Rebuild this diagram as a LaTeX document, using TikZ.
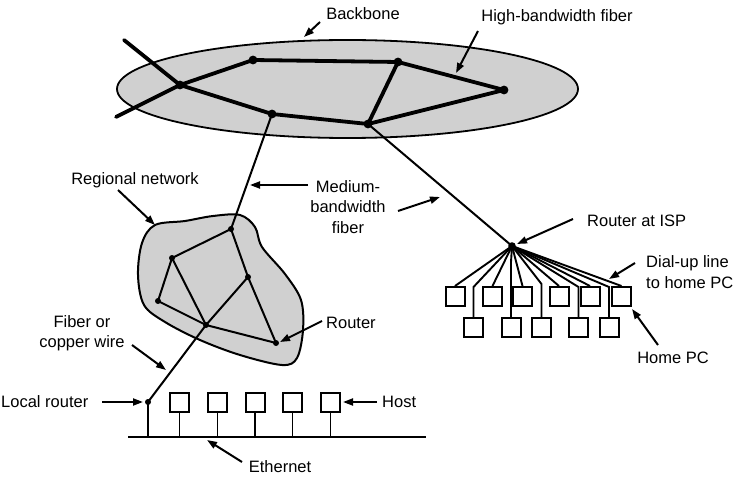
\documentclass[tikz,border=0pt]{standalone}
\usepackage{fontspec}
\setmainfont{Liberation Sans}
\usetikzlibrary{arrows.meta,calc}
\definecolor{blobgray}{RGB}{208,208,208}
\begin{document}
\begin{tikzpicture}[x=1pt,y=-1pt,
  lbl/.style={font=\fontsize{16.5}{20.5}\selectfont, inner sep=0pt, align=center},
  ptr/.style={-{Triangle[length=10pt,width=7pt]}, line width=2pt},
  bbline/.style={line width=3.8pt, line cap=round, line join=round},
  regline/.style={line width=2pt, line cap=round},
  thinline/.style={line width=1.9pt},
  pcbox/.style={draw, line width=2pt, minimum size=19pt, inner sep=0pt},
]
\useasboundingbox (0,0) rectangle (738,478);

% ---------- Backbone ----------
\draw[line width=1.8pt, fill=blobgray] (347.5,89) ellipse [x radius=230.5, y radius=49];
\coordinate (A) at (180,85);
\coordinate (B) at (253,60);
\coordinate (C) at (398,62);
\coordinate (D) at (504,90);
\coordinate (E) at (368,124);
\coordinate (F) at (272,114);
\coordinate (ext1) at (124,40);
\coordinate (ext2) at (116,117);
\draw[bbline] (ext1) -- (A);
\draw[bbline] (ext2) -- (A);
\draw[bbline] (A) -- (B) -- (C) -- (D) -- (E) -- (F) -- cycle;
\draw[bbline] (C) -- (E);
\foreach \p in {A,B,C,D,E,F} \fill (\p) circle (4.4);

% ---------- Regional network ----------
\draw[line width=2pt, fill=blobgray] plot[smooth cycle, tension=0.55] coordinates {
  (155,225) (185,221) (213,216) (240,215) (255,227) (262,247) (285,274)
  (301,300) (303,330) (297,358) (282,365) (240,355) (200,340) (165,322)
  (144,305) (138,275) (142,243)};
\coordinate (R1) at (231,229);
\coordinate (R2) at (172,258);
\coordinate (R3) at (248,277);
\coordinate (R4) at (158,301);
\coordinate (R5) at (206,325);
\coordinate (R6) at (276,343);
\coordinate (LR) at (148,402);
\draw[regline] (R1) -- (R2) -- (R4) -- (R5) -- (R6) -- (R3) -- (R1);
\draw[regline] (R2) -- (R5);
\draw[regline] (R3) -- (R5);
\draw[regline] (R5) -- (LR);
\draw[regline] (F) -- (R1);
\foreach \p in {R1,R2,R3,R4,R5,R6,LR} \fill (\p) circle (3);

% ---------- ISP and home PCs ----------
\coordinate (ISP) at (512,246);
\draw[regline] (E) -- (ISP);
\fill (ISP) circle (3.8);
\node[pcbox] (t1) at (455,296.5) {};
\node[pcbox] (t2) at (492.5,296.5) {};
\node[pcbox] (t3) at (522.5,296.5) {};
\node[pcbox] (t4) at (559,296.5) {};
\node[pcbox] (t5) at (590,296.5) {};
\node[pcbox] (t6) at (621.5,296.5) {};
\node[pcbox] (b1) at (473.5,327.5) {};
\node[pcbox] (b2) at (511,327.5) {};
\node[pcbox] (b3) at (541.5,327.5) {};
\node[pcbox] (b4) at (578.5,327.5) {};
\node[pcbox] (b5) at (609,327.5) {};
\foreach \t in {t1,t2,t3,t4,t5,t6}
  \draw[thinline] (ISP) -- (\t.north);
\draw[thinline] (ISP) -- ($(b1.north)+(0,-30)$) -- (b1.north);
\draw[thinline] (ISP) -- ($(b2.north)+(0,-55)$) -- (b2.north);
\draw[thinline] (ISP) -- ($(b3.north)+(0,-33)$) -- (b3.north);
\draw[thinline] (ISP) -- ($(b4.north)+(0,-30)$) -- (b4.north);
\draw[thinline] (ISP) -- ($(b5.north)+(0,-30)$) -- (b5.north);

% ---------- LAN ----------
\coordinate (ethL) at (128,437);
\coordinate (ethR) at (426,437);
\draw[thinline] (ethL) -- (ethR);
\draw[thinline] (LR) -- (LR |- ethL);
\foreach \i/\x in {1/179.5,2/217.5,3/255,4/292.5,5/330.5} {
  \node[pcbox] (h\i) at (\x,402) {};
  \draw[thinline] (h\i.south) -- (h\i.south |- ethL);
}

% ---------- Labels ----------
\node[lbl] (lBackbone) at (363,14) {Backbone};
\coordinate (aBb1) at (320,22); \coordinate (aBb2) at (304,37);
\draw[ptr] (aBb1) -- (aBb2);

\node[lbl] (lHigh) at (557,17) {High-bandwidth fiber};
\coordinate (aHi1) at (478,31); \coordinate (aHi2) at (456,73);
\draw[ptr] (aHi1) -- (aHi2);

\node[lbl] (lMed) at (348,207) {Medium-\\bandwidth\\fiber};
\coordinate (aMe1) at (308,185); \coordinate (aMe2) at (250,185);
\draw[ptr] (aMe1) -- (aMe2);
\coordinate (aMe3) at (398,211); \coordinate (aMe4) at (440,197);
\draw[ptr] (aMe3) -- (aMe4);

\node[lbl] (lReg) at (135,180) {Regional network};
\coordinate (aRe1) at (118,190); \coordinate (aRe2) at (155,225);
\draw[ptr] (aRe1) -- (aRe2);

\node[lbl, anchor=west] (lISP) at (587,221) {Router at ISP};
\coordinate (aIs1) at (573,219); \coordinate (aIs2) at (517,244);
\draw[ptr] (aIs1) -- (aIs2);

\node[lbl, anchor=west, align=left] (lDial) at (646,272) {Dial-up line\\to home PC};
\coordinate (aDi1) at (635,263); \coordinate (aDi2) at (609,279);
\draw[ptr] (aDi1) -- (aDi2);

\node[lbl] (lHome) at (673,358) {Home PC};
\coordinate (aHo1) at (658,345); \coordinate (aHo2) at (632,309);
\draw[ptr] (aHo1) -- (aHo2);

\node[lbl, anchor=west] (lRouter) at (326,323) {Router};
\coordinate (aRo1) at (322,321); \coordinate (aRo2) at (280,342);
\draw[ptr] (aRo1) -- (aRo2);

\node[lbl] (lFiber) at (82,333) {Fiber or\\copper wire};
\coordinate (aFi1) at (132,345); \coordinate (aFi2) at (166,370);
\draw[ptr] (aFi1) -- (aFi2);

\node[lbl, anchor=west] (lLocal) at (1,402) {Local router};
\coordinate (aLo1) at (102,402); \coordinate (aLo2) at (143,402);
\draw[ptr] (aLo1) -- (aLo2);

\node[lbl, anchor=west] (lHost) at (382,402) {Host};
\coordinate (aHs1) at (377,402); \coordinate (aHs2) at (343,402);
\draw[ptr] (aHs1) -- (aHs2);

\node[lbl] (lEth) at (280,467) {Ethernet};
\coordinate (aEt1) at (242,462); \coordinate (aEt2) at (207,440);
\draw[ptr] (aEt1) -- (aEt2);
\end{tikzpicture}
\end{document}
